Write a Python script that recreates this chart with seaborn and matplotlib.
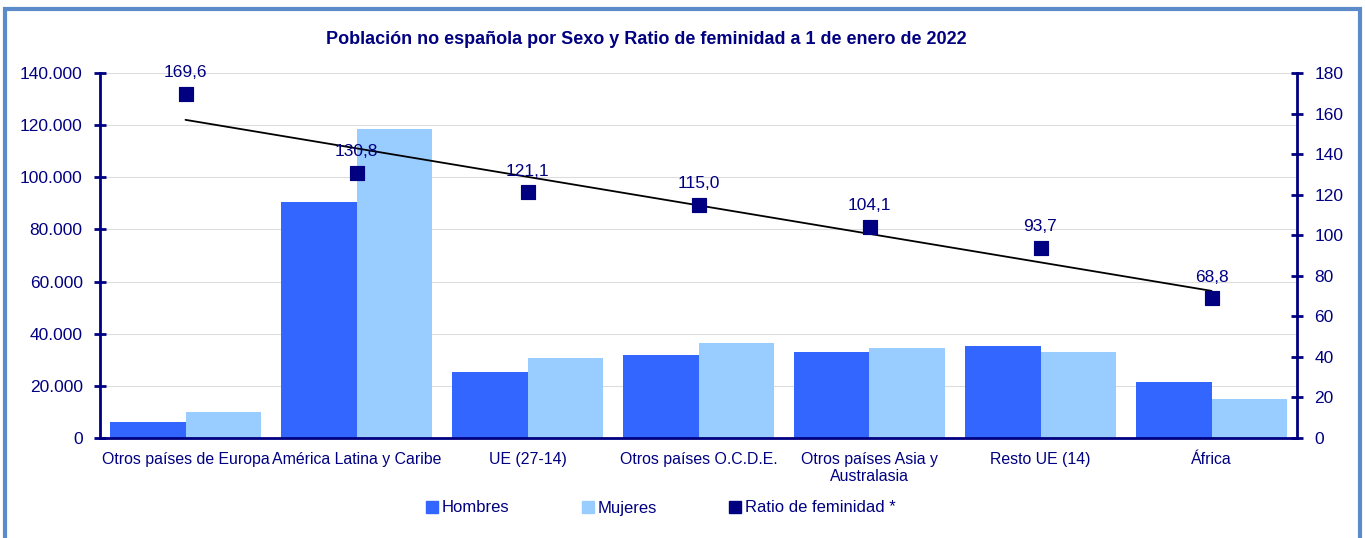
import numpy as np
import pandas as pd
import matplotlib
matplotlib.use("Agg")
import matplotlib.pyplot as plt
import seaborn as sns
from matplotlib.patches import Rectangle
from matplotlib.lines import Line2D
from matplotlib.ticker import FuncFormatter

# --- datos ---
categorias = ["Otros países de Europa", "América Latina y Caribe", "UE (27-14)",
              "Otros países O.C.D.E.", "Otros países Asia y\nAustralasia",
              "Resto UE (14)", "África"]
hombres = [6100, 90500, 25300, 31800, 33000, 35400, 21500]
mujeres = [10000, 118500, 30700, 36400, 34400, 33100, 14800]
ratio = [169.6, 130.8, 121.1, 115.0, 104.1, 93.7, 68.8]

navy = "#000080"
c_h = "#3366FF"
c_m = "#99CCFF"

df = pd.DataFrame({"categoria": categorias * 2,
                   "sexo": ["Hombres"] * 7 + ["Mujeres"] * 7,
                   "poblacion": hombres + mujeres})
df_r = pd.DataFrame({"x": np.arange(len(categorias)), "ratio": ratio})

sns.set_style("white")
plt.rcParams["font.family"] = ["Liberation Sans", "DejaVu Sans"]

fig = plt.figure(figsize=(13.65, 5.38), dpi=100)
ax = fig.add_axes([100 / 1365, 1 - 438 / 538, 1197 / 1365, 365 / 538])

sns.barplot(data=df, x="categoria", y="poblacion", hue="sexo",
            palette={"Hombres": c_h, "Mujeres": c_m}, width=0.88,
            saturation=1, linewidth=0, ax=ax, legend=False, zorder=2)
ax.set_ylim(0, 140000)
ax.set_xlim(-0.5, len(categorias) - 0.5)
ax.set_yticks(np.arange(0, 140001, 20000))
ax.yaxis.set_major_formatter(FuncFormatter(lambda v, p: f"{int(v):,}".replace(",", ".")))
ax.grid(axis="y", color="#dddddd", linewidth=0.8, zorder=0)
ax.set_axisbelow(True)
ax.set_xlabel("")
ax.set_ylabel("")

# marcas del eje x entre categorías
ax.set_xticks(np.arange(len(categorias)))
ax.set_xticklabels(categorias, color=navy, fontsize=11.4)
ax.set_xticks(np.arange(-0.5, len(categorias), 1), minor=True)
ax.tick_params(axis="x", which="major", length=0, pad=10)
ax.tick_params(axis="x", which="minor", direction="inout", length=9, width=2, color=navy)
ax.tick_params(axis="y", direction="inout", length=9, width=2, color=navy,
               labelcolor=navy, labelsize=12.5, pad=8)
for s in ["top", "right"]:
    ax.spines[s].set_visible(False)
for s in ["left", "bottom"]:
    ax.spines[s].set_color(navy)
    ax.spines[s].set_linewidth(2)

# eje secundario: ratio de feminidad
ax2 = ax.twinx()
sns.regplot(data=df_r, x="x", y="ratio", scatter=False, ci=None, ax=ax2,
            line_kws={"color": "black", "linewidth": 1.3})
sns.scatterplot(data=df_r, x="x", y="ratio", marker="s", s=110, color=navy,
                edgecolor=navy, ax=ax2, zorder=4)
for xi, r in zip(df_r["x"], df_r["ratio"]):
    ax2.annotate(f"{r:.1f}".replace(".", ","), (xi, r), xytext=(0, 10),
                 textcoords="offset points", ha="center", va="bottom",
                 color=navy, fontsize=12.5)
ax2.set_ylim(0, 180)
ax2.set_xlim(-0.5, len(categorias) - 0.5)
ax2.set_yticks(np.arange(0, 181, 20))
ax2.set_xlabel("")
ax2.set_ylabel("")
ax2.tick_params(axis="y", direction="inout", length=9, width=2, color=navy,
                labelcolor=navy, labelsize=12.5, pad=8)
for s in ["top", "left", "bottom"]:
    ax2.spines[s].set_visible(False)
ax2.spines["right"].set_color(navy)
ax2.spines["right"].set_linewidth(2)

fig.text(0.4735, 1 - 40 / 538, "Población no española por Sexo y Ratio de feminidad a 1 de enero de 2022",
         ha="center", va="center", color=navy, fontsize=13, fontweight="bold")

handles = [Line2D([], [], marker="s", linestyle="", color=c_h, markersize=8),
           Line2D([], [], marker="s", linestyle="", color=c_m, markersize=8),
           Line2D([], [], marker="s", linestyle="", color=navy, markersize=8)]
leg = fig.legend(handles, ["Hombres", "Mujeres", "Ratio de feminidad *"],
                 loc="center", bbox_to_anchor=(0.484, 1 - 508 / 538), ncol=3,
                 frameon=False, fontsize=12, handlelength=0.8, handletextpad=0.2,
                 columnspacing=4.3)
for t in leg.get_texts():
    t.set_color(navy)

fig.patches.append(Rectangle((5 / 1365, -0.05), 1355 / 1365, 1.05 - 9 / 538,
                             transform=fig.transFigure, fill=False,
                             edgecolor="#5B8BC9", linewidth=3))

fig.savefig("out.png", dpi=100)
